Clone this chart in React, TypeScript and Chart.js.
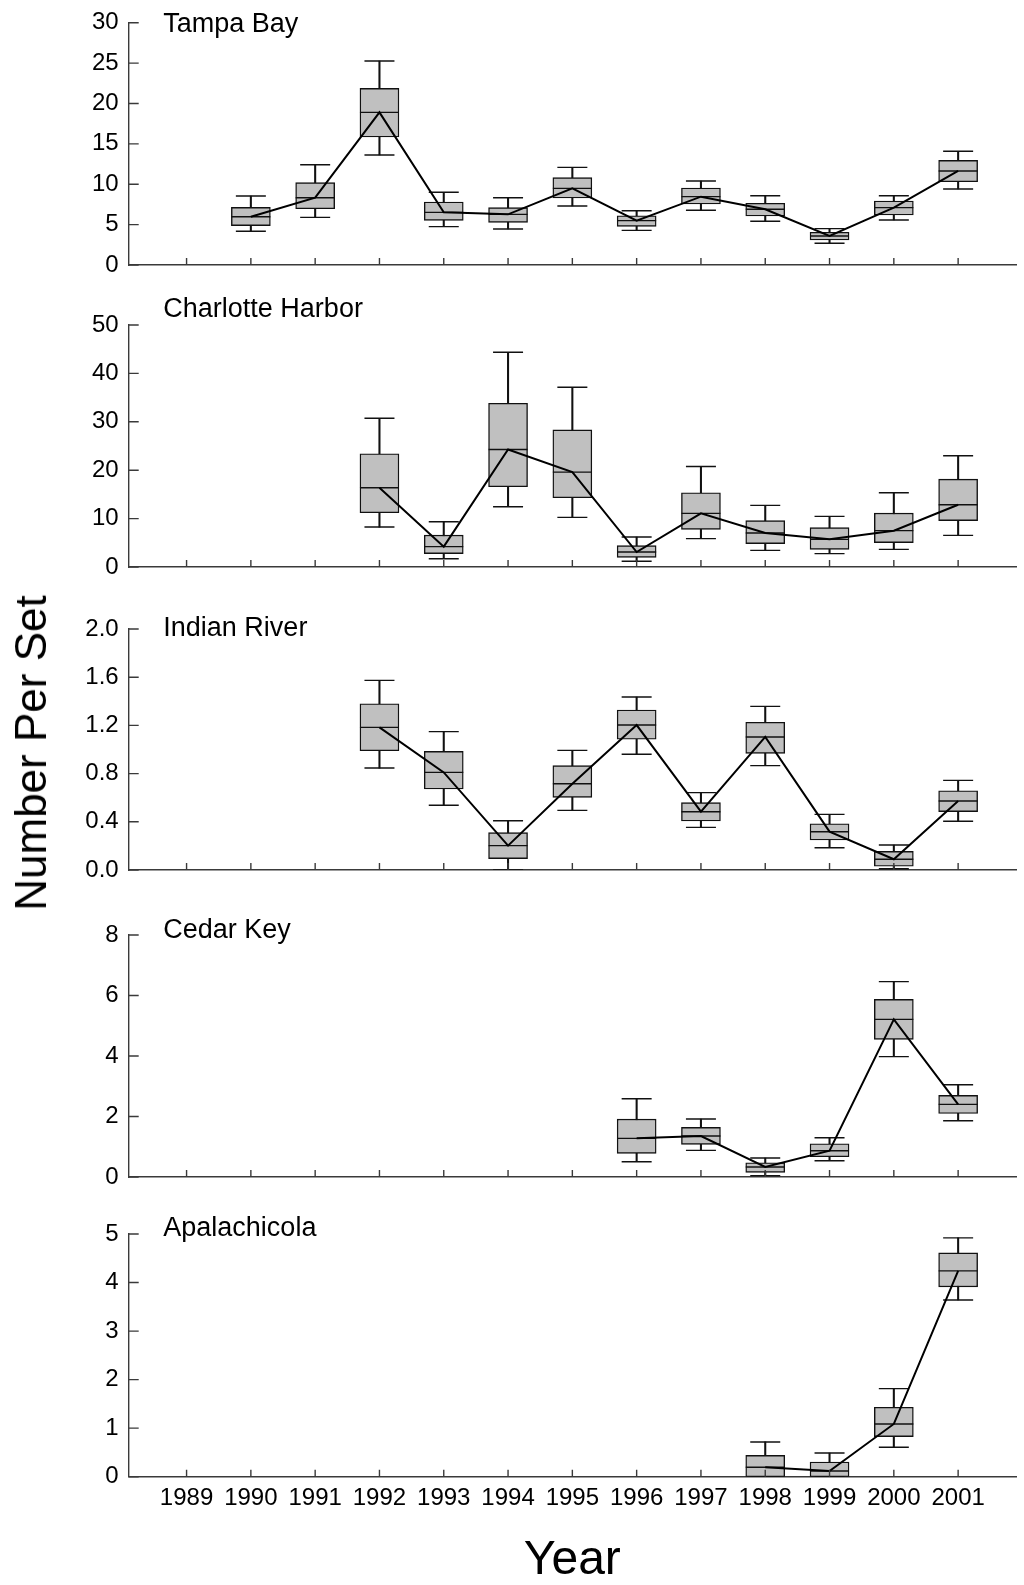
import React, { useEffect, useRef } from "react";
import { Chart, registerables } from "chart.js";

Chart.register(...registerables);

const FONT = "'Liberation Sans', Arial, Helvetica, sans-serif";
const AXIS_COLOR = "#3a3a3a";
const BOX_FILL = "#c0c0c0";

// Shared x axis: survey years
const years = [1989, 1990, 1991, 1992, 1993, 1994, 1995, 1996, 1997, 1998, 1999, 2000, 2001];
const yearLabels = years.map(String);

// Tampa Bay
const tampaYears = [1990, 1991, 1992, 1993, 1994, 1995, 1996, 1997, 1998, 1999, 2000, 2001];
const tampaMin = [4.17, 5.9, 13.62, 4.75, 4.46, 7.3, 4.29, 6.77, 5.41, 2.69, 5.57, 9.41];
const tampaQ1 = [4.87, 6.97, 15.85, 5.53, 5.28, 8.3, 4.79, 7.55, 6.07, 3.1, 6.19, 10.31];
const tampaMedian = [5.98, 8.33, 18.9, 6.52, 6.27, 9.49, 5.49, 8.46, 6.9, 3.59, 7.1, 11.64];
const tampaQ3 = [7.14, 10.19, 21.87, 7.8, 7.1, 10.81, 6.1, 9.53, 7.64, 4.05, 7.92, 12.96];
const tampaMax = [8.54, 12.42, 25.26, 9.0, 8.33, 12.09, 6.72, 10.4, 8.58, 4.5, 8.58, 14.08];
const tampaTicks = [0, 5, 10, 15, 20, 25, 30];
const tampaTickLabels = ["0", "5", "10", "15", "20", "25", "30"];

// Charlotte Harbor
const charlotteYears = [1992, 1993, 1994, 1995, 1996, 1997, 1998, 1999, 2000, 2001];
const charlotteMin = [8.25, 1.72, 12.45, 10.25, 1.18, 5.86, 3.44, 2.76, 3.65, 6.54];
const charlotteQ1 = [11.21, 2.75, 16.58, 14.31, 2.0, 7.78, 4.83, 3.65, 5.03, 9.57];
const charlotteMedian = [16.37, 4.2, 24.28, 19.6, 3.09, 11.08, 7.01, 5.71, 7.51, 12.87];
const charlotteQ3 = [23.39, 6.6, 33.83, 28.34, 4.41, 15.35, 9.57, 8.13, 11.14, 18.15];
const charlotteMax = [30.74, 9.36, 44.36, 37.13, 6.19, 20.77, 12.73, 10.46, 15.35, 22.98];
const charlotteTicks = [0, 10, 20, 30, 40, 50];
const charlotteTickLabels = ["0", "10", "20", "30", "40", "50"];

// Indian River
const indianYears = [1992, 1993, 1994, 1995, 1996, 1997, 1998, 1999, 2000, 2001];
const indianMin = [0.846, 0.537, 0.0, 0.495, 0.96, 0.354, 0.866, 0.185, 0.01, 0.404];
const indianQ1 = [0.99, 0.672, 0.094, 0.603, 1.085, 0.407, 0.968, 0.249, 0.031, 0.484];
const indianMedian = [1.184, 0.81, 0.202, 0.716, 1.203, 0.484, 1.104, 0.318, 0.089, 0.573];
const indianQ3 = [1.38, 0.985, 0.31, 0.866, 1.328, 0.559, 1.226, 0.384, 0.155, 0.658];
const indianMax = [1.574, 1.148, 0.409, 0.993, 1.436, 0.642, 1.358, 0.462, 0.207, 0.744];
const indianTicks = [0, 0.4, 0.8, 1.2, 1.6, 2.0];
const indianTickLabels = ["0.0", "0.4", "0.8", "1.2", "1.6", "2.0"];

// Cedar Key
const cedarYears = [1996, 1997, 1998, 1999, 2000, 2001];
const cedarMin = [0.505, 0.88, 0.044, 0.538, 3.98, 1.86];
const cedarQ1 = [0.782, 1.079, 0.155, 0.67, 4.55, 2.1];
const cedarMedian = [1.277, 1.354, 0.33, 0.869, 5.21, 2.4];
const cedarQ3 = [1.915, 1.64, 0.472, 1.1, 5.87, 2.7];
const cedarMax = [2.585, 1.915, 0.627, 1.298, 6.46, 3.05];
const cedarTicks = [0, 2, 4, 6, 8];
const cedarTickLabels = ["0", "2", "4", "6", "8"];

// Apalachicola
const apalachicolaYears = [1998, 1999, 2000, 2001];
const apalachicolaMin = [0, 0, 0.606, 3.64];
const apalachicolaQ1 = [0, 0, 0.825, 3.91];
const apalachicolaMedian = [0.194, 0.118, 1.087, 4.24];
const apalachicolaQ3 = [0.44, 0.303, 1.43, 4.61];
const apalachicolaMax = [0.716, 0.489, 1.815, 4.92];
const apalachicolaTicks = [0, 1, 2, 3, 4, 5];
const apalachicolaTickLabels = ["0", "1", "2", "3", "4", "5"];

type PanelSpec = {
  name: string;
  yrs: number[];
  min: number[];
  q1: number[];
  med: number[];
  q3: number[];
  max: number[];
  ticks: number[];
  tickLabels: string[];
  // page geometry
  top: number;
  zero: number;
  padTop: number;
  titleDy: number;
  bottom: number;
  last: boolean;
};

const PAGE_W = 1024;
const PAGE_H = 1585;
const AXIS_LEFT = 128.7;
const RIGHT_PAD = 8;

const panels: PanelSpec[] = [
  { name: "Tampa Bay", yrs: tampaYears, min: tampaMin, q1: tampaQ1, med: tampaMedian, q3: tampaQ3, max: tampaMax, ticks: tampaTicks, tickLabels: tampaTickLabels, top: 22.7, zero: 265, padTop: 22.7, titleDy: 2.3, bottom: 10, last: false },
  { name: "Charlotte Harbor", yrs: charlotteYears, min: charlotteMin, q1: charlotteQ1, med: charlotteMedian, q3: charlotteQ3, max: charlotteMax, ticks: charlotteTicks, tickLabels: charlotteTickLabels, top: 325.3, zero: 567.6, padTop: 34, titleDy: -15.5, bottom: 10, last: false },
  { name: "Indian River", yrs: indianYears, min: indianMin, q1: indianQ1, med: indianMedian, q3: indianQ3, max: indianMax, ticks: indianTicks, tickLabels: indianTickLabels, top: 629, zero: 870, padTop: 34, titleDy: 0, bottom: 10, last: false },
  { name: "Cedar Key", yrs: cedarYears, min: cedarMin, q1: cedarQ1, med: cedarMedian, q3: cedarQ3, max: cedarMax, ticks: cedarTicks, tickLabels: cedarTickLabels, top: 934.7, zero: 1177, padTop: 34, titleDy: -4.7, bottom: 10, last: false },
  { name: "Apalachicola", yrs: apalachicolaYears, min: apalachicolaMin, q1: apalachicolaQ1, med: apalachicolaMedian, q3: apalachicolaQ3, max: apalachicolaMax, ticks: apalachicolaTicks, tickLabels: apalachicolaTickLabels, top: 1234.3, zero: 1476.7, padTop: 34, titleDy: -5.3, bottom: PAGE_H - 1476.7, last: true },
];

// Keep the plot area fixed: no extra room reserved for overhanging labels
function zeroPadding(scale: any) {
  scale.paddingTop = 0;
  scale.paddingBottom = 0;
  scale.paddingLeft = 0;
  scale.paddingRight = 0;
}

// Inward tick marks and the panel caption
function decorPlugin(title: string, titleDy: number) {
  return {
    id: "panelDecor",
    afterDraw(chart: any) {
      const { ctx, chartArea, scales } = chart;
      const xs = scales.x;
      const ys = scales.y;
      ctx.save();
      ctx.strokeStyle = AXIS_COLOR;
      ctx.lineWidth = 1.4;
      ctx.beginPath();
      ys.ticks.forEach((t: any) => {
        const y = ys.getPixelForValue(t.value);
        ctx.moveTo(chartArea.left, y);
        ctx.lineTo(chartArea.left + 10, y);
      });
      xs.ticks.forEach((t: any) => {
        const x = xs.getPixelForValue(t.value);
        ctx.moveTo(x, chartArea.bottom);
        ctx.lineTo(x, chartArea.bottom - 7);
      });
      ctx.stroke();
      ctx.fillStyle = "#000";
      ctx.font = `27px ${FONT}`;
      ctx.textAlign = "left";
      ctx.textBaseline = "middle";
      ctx.fillText(title, 163.3, chartArea.top + titleDy);
      ctx.restore();
    },
  };
}

function Panel({ spec }: { spec: PanelSpec }) {
  const ref = useRef<HTMLCanvasElement | null>(null);
  const canvasTop = spec.top - spec.padTop;
  const height = spec.padTop + (spec.zero - spec.top) + spec.bottom;

  useEffect(() => {
    if (!ref.current) return;
    const pts = (vals: number[]) => spec.yrs.map((x, i) => ({ x, y: vals[i] }));
    const ranges = (lo: number[], hi: number[]) => spec.yrs.map((x, i) => ({ x, y: [lo[i], hi[i]] }));

    const chart = new Chart(ref.current, {
      type: "bar",
      data: {
        datasets: [
          {
            type: "bar",
            data: ranges(spec.min, spec.max) as any,
            backgroundColor: "#111",
            borderWidth: 0,
            barThickness: 1.4,
            grouped: false,
            order: 5,
          } as any,
          {
            type: "line",
            data: [...pts(spec.min), ...pts(spec.max)],
            showLine: false,
            pointStyle: "line",
            pointRadius: 15,
            pointBorderColor: "#111",
            pointBorderWidth: 1.4,
            order: 4,
          } as any,
          {
            type: "bar",
            data: ranges(spec.q1, spec.q3) as any,
            backgroundColor: BOX_FILL,
            borderColor: "#111",
            borderWidth: 1.4,
            borderSkipped: false,
            barThickness: 39,
            grouped: false,
            order: 3,
          } as any,
          {
            type: "line",
            data: pts(spec.med),
            showLine: false,
            pointStyle: "line",
            pointRadius: 19.5,
            pointBorderColor: "#111",
            pointBorderWidth: 1.4,
            order: 2,
          } as any,
          {
            type: "line",
            data: pts(spec.med),
            borderColor: "#000",
            borderWidth: 2,
            pointRadius: 0,
            tension: 0,
            order: 1,
          } as any,
        ],
      },
      options: {
        responsive: false,
        animation: false,
        events: [],
        layout: { autoPadding: false, padding: { left: 0, right: RIGHT_PAD, top: spec.padTop, bottom: 0 } },
        plugins: { legend: { display: false }, tooltip: { enabled: false } },
        scales: {
          x: {
            type: "linear",
            min: years[0] - 0.9,
            max: years[years.length - 1] + 0.9,
            offset: false,
            grid: { display: false, drawTicks: false, offset: false },
            border: { display: true, color: AXIS_COLOR, width: 1.4 },
            afterBuildTicks: (scale: any) => {
              scale.ticks = years.map((v) => ({ value: v }));
            },
            afterFit: (scale: any) => {
              scale.height = spec.bottom;
              zeroPadding(scale);
            },
            ticks: {
              display: spec.last,
              autoSkip: false,
              maxRotation: 0,
              padding: 7,
              color: "#000",
              font: { family: FONT, size: 24 },
              callback: (_v: any, i: number) => yearLabels[i],
            },
            title: {
              display: spec.last,
              text: "Year",
              color: "#000",
              padding: 0,
              font: { family: FONT, size: 48, lineHeight: 1 },
            },
          },
          y: {
            type: "linear",
            min: spec.ticks[0],
            max: spec.ticks[spec.ticks.length - 1],
            grid: { display: false, drawTicks: false },
            border: { display: true, color: AXIS_COLOR, width: 1.4 },
            afterBuildTicks: (scale: any) => {
              scale.ticks = spec.ticks.map((v) => ({ value: v }));
            },
            afterFit: (scale: any) => {
              scale.width = AXIS_LEFT;
              zeroPadding(scale);
            },
            ticks: {
              padding: 10,
              color: "#000",
              font: { family: FONT, size: 24 },
              callback: (_v: any, i: number) => spec.tickLabels[i],
            },
          },
        },
      } as any,
      plugins: [decorPlugin(spec.name, spec.titleDy)],
    });
    return () => chart.destroy();
  }, [spec]);

  return (
    <canvas
      ref={ref}
      width={PAGE_W}
      height={Math.round(height)}
      style={{ position: "absolute", left: 0, top: canvasTop, width: PAGE_W, height: Math.round(height) }}
    />
  );
}

export default function App() {
  return (
    <div style={{ position: "absolute", left: 0, top: 0, width: PAGE_W, height: PAGE_H, background: "#fff", overflow: "hidden" }}>
      {panels.map((p) => (
        <Panel key={p.name} spec={p} />
      ))}
      <div
        style={{
          position: "absolute",
          left: 31,
          top: 753,
          transform: "translate(-50%, -50%) rotate(-90deg)",
          whiteSpace: "nowrap",
          fontFamily: FONT,
          fontSize: 44,
          lineHeight: 1,
          color: "#000",
        }}
      >
        Number Per Set
      </div>
    </div>
  );
}
